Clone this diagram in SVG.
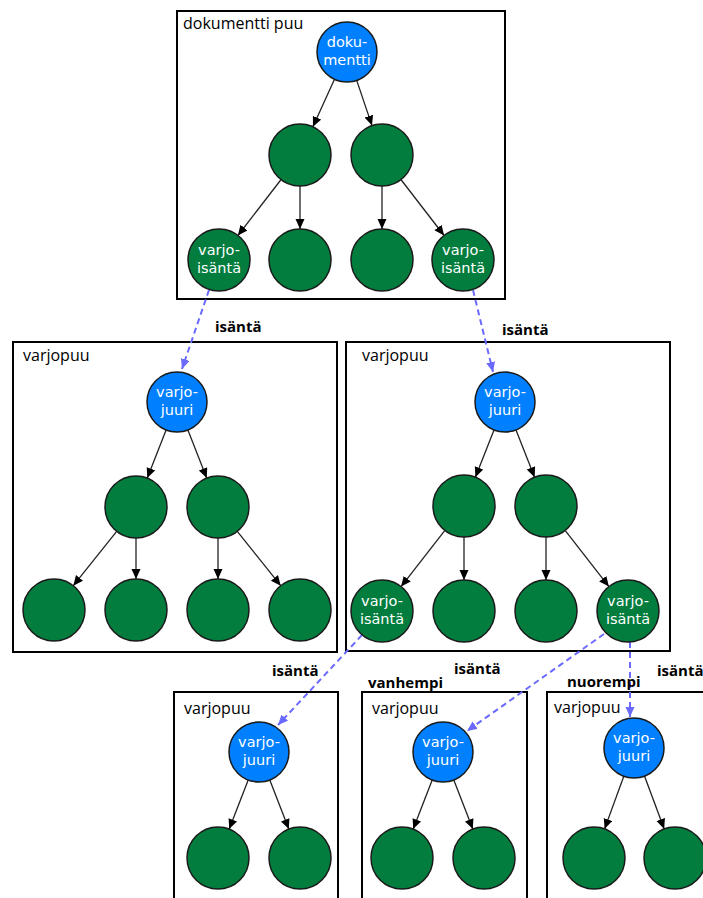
<svg xmlns="http://www.w3.org/2000/svg" width="703" height="898" viewBox="0 0 703 898">
<defs>
<style>
.box{fill:none;stroke:#000;stroke-width:2}
.blue{fill:#0080ff;stroke:#1a1a1a;stroke-width:1.5}
.green{fill:#027d3e;stroke:#1a1a1a;stroke-width:1.5}
.nt{font-family:"DejaVu Sans","Open Sans",sans-serif;font-size:14.5px;fill:#fff;text-anchor:middle}
.lbl{font-family:"Open Sans","DejaVu Sans",sans-serif;font-size:16px;fill:#000}
.bl{font-family:"Open Sans","DejaVu Sans",sans-serif;font-size:15px;font-weight:bold;fill:#000}
.e{stroke:#222;stroke-width:1.3;fill:none;marker-end:url(#ah)}
.d{stroke:#6a6aff;stroke-width:2;stroke-dasharray:6 4;fill:none;marker-end:url(#dh)}
</style>
<marker id="ah" markerUnits="userSpaceOnUse" markerWidth="11" markerHeight="10" refX="10" refY="4.5" orient="auto"><path d="M0,0 L10,4.5 L0,9 z" fill="#000"/></marker>
<marker id="dh" markerUnits="userSpaceOnUse" markerWidth="11" markerHeight="10" refX="10" refY="4.5" orient="auto"><path d="M0,0 L10,4.5 L0,9 z" fill="#6a6aff"/></marker>
</defs>
<rect width="703" height="898" fill="#fff"/>

<g id="box-doc"><rect class="box" x="177" y="11" width="328" height="288"/><text class="lbl" x="183" y="29">dokumentti puu</text></g>
<g id="box-shadow-left"><rect class="box" x="13" y="342" width="324" height="310"/><text class="lbl" x="23" y="361">varjopuu</text></g>
<g id="box-shadow-right"><rect class="box" x="346" y="342" width="324" height="309"/><text class="lbl" x="362" y="361">varjopuu</text></g>
<g id="box-shadow-b1"><rect class="box" x="174" y="692" width="164" height="230"/><text class="lbl" x="184" y="714">varjopuu</text></g>
<g id="box-shadow-b2"><rect class="box" x="362" y="692" width="165" height="230"/><text class="lbl" x="372" y="714">varjopuu</text></g>
<g id="box-shadow-b3"><rect class="box" x="547" y="692" width="200" height="230"/><text class="lbl" x="554" y="713">varjopuu</text></g>

<g id="connectors">
<line class="e" x1="334.5" y1="79.3" x2="312.9" y2="126.8"/>
<line class="e" x1="356.7" y1="80.4" x2="372" y2="125.6"/>
<line class="e" x1="281.1" y1="179.5" x2="237.9" y2="235.5"/>
<line class="e" x1="300" y1="186" x2="300" y2="229"/>
<line class="e" x1="382" y1="186" x2="382" y2="229"/>
<line class="e" x1="400.9" y1="179.5" x2="444.1" y2="235.5"/>

<line class="e" x1="166.1" y1="429.9" x2="147.3" y2="478.1"/>
<line class="e" x1="187.9" y1="429.9" x2="206.7" y2="478.1"/>
<line class="e" x1="116.7" y1="531.3" x2="73.3" y2="585.7"/>
<line class="e" x1="136" y1="538" x2="136" y2="579"/>
<line class="e" x1="218" y1="538" x2="218" y2="579"/>
<line class="e" x1="237.3" y1="531.3" x2="280.7" y2="585.7"/>

<line class="e" x1="494" y1="429.9" x2="475.4" y2="477.2"/>
<line class="e" x1="516" y1="429.9" x2="534.6" y2="477.2"/>
<line class="e" x1="444.9" y1="530.4" x2="401.1" y2="586.6"/>
<line class="e" x1="464" y1="537" x2="464" y2="580"/>
<line class="e" x1="546" y1="537" x2="546" y2="580"/>
<line class="e" x1="565.1" y1="530.4" x2="608.9" y2="586.6"/>

<line class="e" x1="248.2" y1="780" x2="229.2" y2="829.1"/>
<line class="e" x1="269.8" y1="780" x2="288.8" y2="829.1"/>
<line class="e" x1="432.2" y1="780" x2="413.2" y2="829.1"/>
<line class="e" x1="453.8" y1="780" x2="472.8" y2="829.1"/>
<line class="e" x1="623.8" y1="776.2" x2="604.6" y2="828.9"/>
<line class="e" x1="644.5" y1="776.1" x2="664.2" y2="828.9"/>

<line class="d" x1="209" y1="290" x2="182" y2="369"/>
<line class="d" x1="473" y1="290" x2="493" y2="372"/>
<line class="d" x1="362" y1="635" x2="278" y2="725"/>
<line class="d" x1="604" y1="634" x2="467" y2="731"/>
<line class="d" x1="630" y1="642" x2="630" y2="717"/>

<text class="bl" x="215" y="332">isäntä</text>
<text class="bl" x="502" y="335">isäntä</text>
<text class="bl" x="272" y="676">isäntä</text>
<text class="bl" x="454" y="674">isäntä</text>
<text class="bl" x="657" y="676">isäntä</text>
<text class="bl" x="368" y="688">vanhempi</text>
<text class="bl" x="567" y="687">nuorempi</text>
</g>

<g id="n-doc"><circle class="blue" cx="347" cy="52" r="30"/><text class="nt" x="347" y="47">doku-<tspan x="347" dy="18">mentti</tspan></text></g>
<g id="n-a1"><circle class="green" cx="300" cy="155" r="31"/></g>
<g id="n-a2"><circle class="green" cx="382" cy="155" r="31"/></g>
<g id="n-a3"><circle class="green" cx="219" cy="260" r="31"/><text class="nt" x="219" y="255">varjo-<tspan x="219" dy="18">isäntä</tspan></text></g>
<g id="n-a4"><circle class="green" cx="300" cy="260" r="31"/></g>
<g id="n-a5"><circle class="green" cx="382" cy="260" r="31"/></g>
<g id="n-a6"><circle class="green" cx="463" cy="260" r="31"/><text class="nt" x="463" y="255">varjo-<tspan x="463" dy="18">isäntä</tspan></text></g>

<g id="n-b0"><circle class="blue" cx="177" cy="402" r="30"/><text class="nt" x="177" y="397">varjo-<tspan x="177" dy="18">juuri</tspan></text></g>
<g id="n-b1"><circle class="green" cx="136" cy="507" r="31"/></g>
<g id="n-b2"><circle class="green" cx="218" cy="507" r="31"/></g>
<g id="n-b3"><circle class="green" cx="54" cy="610" r="31"/></g>
<g id="n-b4"><circle class="green" cx="136" cy="610" r="31"/></g>
<g id="n-b5"><circle class="green" cx="218" cy="610" r="31"/></g>
<g id="n-b6"><circle class="green" cx="300" cy="610" r="31"/></g>

<g id="n-c0"><circle class="blue" cx="505" cy="402" r="30"/><text class="nt" x="505" y="397">varjo-<tspan x="505" dy="18">juuri</tspan></text></g>
<g id="n-c1"><circle class="green" cx="464" cy="506" r="31"/></g>
<g id="n-c2"><circle class="green" cx="546" cy="506" r="31"/></g>
<g id="n-c3"><circle class="green" cx="382" cy="611" r="31"/><text class="nt" x="382" y="606">varjo-<tspan x="382" dy="18">isäntä</tspan></text></g>
<g id="n-c4"><circle class="green" cx="464" cy="611" r="31"/></g>
<g id="n-c5"><circle class="green" cx="546" cy="611" r="31"/></g>
<g id="n-c6"><circle class="green" cx="628" cy="611" r="31"/><text class="nt" x="628" y="606">varjo-<tspan x="628" dy="18">isäntä</tspan></text></g>

<g id="n-d0"><circle class="blue" cx="259" cy="752" r="30"/><text class="nt" x="259" y="747">varjo-<tspan x="259" dy="18">juuri</tspan></text></g>
<g id="n-d1"><circle class="green" cx="218" cy="858" r="31"/></g>
<g id="n-d2"><circle class="green" cx="300" cy="858" r="31"/></g>

<g id="n-e0"><circle class="blue" cx="443" cy="752" r="30"/><text class="nt" x="443" y="747">varjo-<tspan x="443" dy="18">juuri</tspan></text></g>
<g id="n-e1"><circle class="green" cx="402" cy="858" r="31"/></g>
<g id="n-e2"><circle class="green" cx="484" cy="858" r="31"/></g>

<g id="n-f0"><circle class="blue" cx="634" cy="748" r="30"/><text class="nt" x="634" y="743">varjo-<tspan x="634" dy="18">juuri</tspan></text></g>
<g id="n-f1"><circle class="green" cx="594" cy="858" r="31"/></g>
<g id="n-f2"><circle class="green" cx="675" cy="858" r="31"/></g>
</svg>
